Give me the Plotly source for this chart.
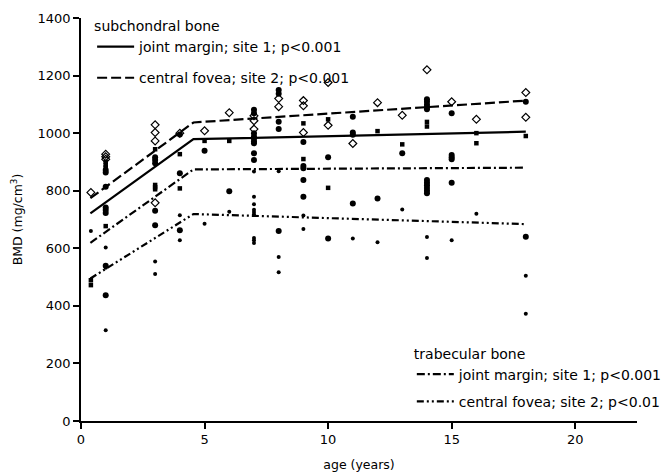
import plotly.graph_objects as go

# Regression fits (piecewise linear, breakpoint at 4.55 years)
fit_age = [0.38, 4.55, 18.0]
sub_site1_fit = [721, 979, 1005]
sub_site2_fit = [774, 1037, 1113]
trab_site1_fit = [619, 874, 880]
trab_site2_fit = [495, 719, 684]

# Individual measurements, grouped by marker style
diamond_age = [0.4, 1, 1, 1, 3, 3, 3, 3, 4, 5, 6, 7, 7, 7, 8, 8, 9, 9, 9, 10, 10,
               11, 12, 13, 14, 15, 16, 18, 18]
diamond_bmd = [794, 927, 918, 909, 1029, 1002, 973, 758, 1000, 1008, 1071, 1060, 1043,
               1014, 1120, 1092, 1113, 1095, 1002, 1176, 1027, 964, 1106, 1062, 1220,
               1109, 1048, 1141, 1055]

circle_age = [1, 1, 1, 1, 1, 1, 1, 1, 3, 3, 3, 3, 3, 4, 4, 4, 5, 6,
              7, 7, 7, 7, 7, 7, 7, 7, 7, 8, 8, 8, 8, 8, 9, 9, 9, 9, 9,
              10, 10, 11, 11, 11, 11, 12, 13, 14, 14, 14, 14, 14, 14, 14, 14, 14, 14, 14,
              15, 15, 15, 15, 15, 18, 18]
circle_bmd = [872, 863, 814, 742, 733, 723, 539, 437, 916, 907, 895, 730, 680, 995, 861, 663,
              939, 798, 1081, 1069, 1000, 988, 981, 972, 965, 930, 907, 1150, 1137, 1040,
              1014, 660, 969, 886, 878, 837, 779, 916, 634, 1057, 1002, 994, 756, 773, 930,
              1118, 1109, 1099, 1090, 1083, 837, 828, 819, 809, 800, 791, 1069, 924, 916,
              909, 828, 1109, 640]

square_age = [0.4, 0.4, 1, 1, 1, 1, 3, 3, 3, 3, 4, 4, 5, 6, 9, 9, 10, 10, 12, 13,
              14, 14, 16, 16, 18]
square_bmd = [489, 472, 900, 890, 881, 677, 944, 820, 812, 805, 927, 808, 973, 973,
              1034, 910, 1048, 810, 1007, 961, 1039, 1023, 1000, 965, 990]

dot_age = [0.4, 1, 1, 1, 3, 3, 4, 4, 5, 6, 7, 7, 7, 7, 7, 7, 7, 7, 7, 8, 8, 8,
           9, 9, 11, 12, 13, 14, 14, 15, 16, 18, 18]
dot_bmd = [660, 603, 532, 315, 554, 511, 715, 628, 685, 727, 867, 779, 753, 734, 726,
           718, 636, 628, 618, 868, 570, 517, 714, 667, 634, 621, 735, 639, 566, 628,
           720, 505, 373]

x_ticks = [0, 5, 10, 15, 20]
y_ticks = [0, 200, 400, 600, 800, 1000, 1200, 1400]

FONT = "DejaVu Sans"
INK = "black"

fig = go.Figure()

# scatter markers
fig.add_trace(go.Scatter(x=diamond_age, y=diamond_bmd, mode="markers", showlegend=False,
                         marker=dict(symbol="diamond-open", size=6, color=INK,
                                     line=dict(width=1.2, color=INK))))
fig.add_trace(go.Scatter(x=circle_age, y=circle_bmd, mode="markers", showlegend=False,
                         marker=dict(symbol="circle", size=6, color=INK)))
fig.add_trace(go.Scatter(x=square_age, y=square_bmd, mode="markers", showlegend=False,
                         marker=dict(symbol="square", size=4.5, color=INK)))
fig.add_trace(go.Scatter(x=dot_age, y=dot_bmd, mode="markers", showlegend=False,
                         marker=dict(symbol="circle", size=4, color=INK)))

# fitted lines
fig.add_trace(go.Scatter(x=fit_age, y=sub_site1_fit, mode="lines",
                         name="joint margin; site 1; p<0.001", legend="legend",
                         legendgroup="a",
                         line=dict(color=INK, width=2.2, dash="solid")))
fig.add_trace(go.Scatter(x=fit_age, y=sub_site2_fit, mode="lines",
                         name="central fovea; site 2; p<0.001", legend="legend",
                         legendgroup="b",
                         line=dict(color=INK, width=2.2, dash="10px,4px")))
fig.add_trace(go.Scatter(x=fit_age, y=trab_site1_fit, mode="lines",
                         name="joint margin; site 1; p<0.001", legend="legend2",
                         legendgroup="c",
                         line=dict(color=INK, width=2.2, dash="8px,3px,2px,3px")))
fig.add_trace(go.Scatter(x=fit_age, y=trab_site2_fit, mode="lines",
                         name="central fovea; site 2; p<0.01", legend="legend2",
                         legendgroup="d",
                         line=dict(color=INK, width=2.2, dash="7px,3px,2px,3px,2px,3px")))

axis_common = dict(showline=True, linecolor=INK, linewidth=1.5, ticks="outside",
                   ticklen=6, tickwidth=1.5, tickcolor=INK, showgrid=False,
                   zeroline=False, tickfont=dict(family=FONT, size=13, color=INK))

fig.update_layout(
    width=667, height=472,
    margin=dict(l=81, r=30, t=18, b=51, autoexpand=False),
    plot_bgcolor="white", paper_bgcolor="white",
    font=dict(family=FONT, color=INK),
    xaxis=dict(range=[0, 22.5], tickvals=x_ticks, **axis_common,
               title=dict(text="age (years)", font=dict(family=FONT, size=12.5),
                          standoff=16)),
    yaxis=dict(range=[0, 1400], tickvals=y_ticks, **axis_common,
               title=dict(text="BMD (mg/cm<sup>3</sup>)", font=dict(family=FONT, size=12.5),
                          standoff=12)),
    legend=dict(x=0.02, y=1.013, xanchor="left", yanchor="top",
                title=dict(text="subchondral bone", font=dict(family=FONT, size=14)),
                font=dict(family=FONT, size=14), bgcolor="rgba(0,0,0,0)",
                tracegroupgap=10, itemwidth=37),
    legend2=dict(x=0.595, y=0.2, xanchor="left", yanchor="top",
                 title=dict(text="trabecular bone", font=dict(family=FONT, size=14)),
                 font=dict(family=FONT, size=14), bgcolor="rgba(0,0,0,0)",
                 tracegroupgap=6, itemwidth=37),
)

fig.write_html("out.html")
